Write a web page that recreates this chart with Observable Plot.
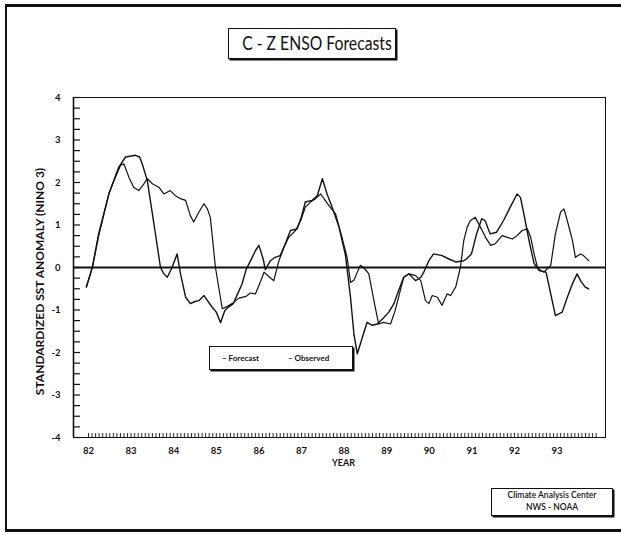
<!DOCTYPE html>
<html>
<head>
<meta charset="utf-8">
<script src="https://cdn.jsdelivr.net/npm/d3@7"></script>
<script src="https://cdn.jsdelivr.net/npm/@observablehq/plot@0.6"></script>
<style>
  html, body { margin: 0; padding: 0; background: #fff; }
  #wrap { position: relative; width: 621px; height: 536px; overflow: hidden; font-family: Lato, "Open Sans", sans-serif; }
  #border { position: absolute; left: 5px; top: 4px; width: 640px; height: 522px; border-top: 3px solid #111; border-left: 2px solid #111; border-bottom: 3px solid #111; }
  .box { position: absolute; background: #fff; border: 1.5px solid #111; box-shadow: 1.5px 1.5px 0 #111; color: #111; white-space: nowrap; }
  #title { left: 228px; top: 28px; width: 166px; height: 29px; font-size: 18.5px; line-height: 29px; text-align: center; }
  #title span { display: inline-block; transform: scaleX(0.85); }
  #legend { left: 209px; top: 346px; width: 142px; height: 22px; font-size: 8px; font-weight: 700; line-height: 22px; }
  #legend span { position: absolute; top: 0; }
  #credit { left: 491px; top: 488px; width: 120px; height: 25px; font-size: 8.5px; line-height: 11.5px; text-align: center; padding-top: 1px; font-weight: 600; }
  #chart { position: absolute; left: 0; top: 0; }
</style>
</head>
<body>
<div id="wrap">
  <div id="chart"></div>
  <div id="border"></div>
  <div class="box" id="title"><span>C - Z ENSO Forecasts</span></div>
  <div class="box" id="legend"><span style="left:12px">– Forecast</span><span style="left:78px">– Observed</span></div>
  <div class="box" id="credit">Climate Analysis Center<br>NWS - NOAA</div>
</div>
<script>
// Tick labels
const yearTicks = [82, 83, 84, 85, 86, 87, 88, 89, 90, 91, 92, 93];
const yTickLabels = [-4, -3, -2, -1, 0, 1, 2, 3, 4];
const yLabel = "STANDARDIZED SST ANOMALY (NINO 3)";
const xLabel = "YEAR";

// Forecast series (year, standardized anomaly)
const forecastYears = [81.95, 82.09, 82.24, 82.48, 82.63, 82.75, 82.83, 82.95, 83.06, 83.18, 83.30, 83.38, 83.50, 83.65, 83.77, 83.92, 84.04, 84.16, 84.28, 84.39, 84.47, 84.59, 84.71, 84.79, 84.86, 84.98, 85.14, 85.25, 85.37, 85.53, 85.70, 85.80, 85.92, 86.05, 86.12, 86.22, 86.35, 86.47, 86.59, 86.70, 86.86, 86.98, 87.09, 87.21, 87.33, 87.45, 87.64, 87.80, 87.95, 88.07, 88.15, 88.23, 88.38, 88.46, 88.58, 88.70, 88.81, 88.93, 89.09, 89.20, 89.32, 89.40, 89.52, 89.68, 89.80, 89.91, 89.99, 90.07, 90.19, 90.30, 90.42, 90.50, 90.62, 90.73, 90.81, 90.89, 90.96, 91.08, 91.20, 91.32, 91.44, 91.55, 91.71, 91.83, 91.95, 92.06, 92.18, 92.30, 92.38, 92.46, 92.54, 92.61, 92.69, 92.77, 92.85, 92.96, 93.08, 93.16, 93.24, 93.36, 93.43, 93.55, 93.62, 93.74];
const forecastValues = [-0.46, 0, 0.75, 1.74, 2.12, 2.40, 2.44, 2.12, 1.89, 1.81, 1.97, 2.09, 1.97, 1.89, 1.73, 1.81, 1.69, 1.62, 1.58, 1.22, 1.07, 1.30, 1.50, 1.38, 1.18, 0, -0.97, -0.92, -0.85, -0.72, -0.68, -0.60, -0.62, -0.30, -0.11, -0.20, -0.31, 0.16, 0.48, 0.71, 0.87, 1.10, 1.42, 1.54, 1.62, 1.73, 1.46, 1.26, 0.71, 0.24, -0.35, -0.30, 0.05, 0, -0.15, -0.78, -1.33, -1.29, -1.33, -1.01, -0.54, -0.23, -0.15, -0.19, -0.31, -0.78, -0.85, -0.66, -0.70, -0.89, -0.62, -0.66, -0.46, 0, 0.64, 0.95, 1.10, 1.18, 0.95, 0.71, 0.52, 0.56, 0.75, 0.71, 0.67, 0.75, 0.87, 0.91, 0.71, 0.32, 0, -0.07, -0.11, -0.03, 0.05, 0.79, 1.30, 1.38, 1.10, 0.64, 0.24, 0.32, 0.28, 0.16];

// Observed series (year, standardized anomaly)
const observedYears = [81.95, 82.09, 82.24, 82.48, 82.71, 82.87, 83.10, 83.20, 83.26, 83.38, 83.57, 83.69, 83.77, 83.85, 83.96, 84.08, 84.16, 84.28, 84.39, 84.50, 84.59, 84.71, 84.90, 85.00, 85.10, 85.20, 85.30, 85.40, 85.50, 85.60, 85.70, 85.80, 85.92, 86.00, 86.10, 86.15, 86.27, 86.38, 86.50, 86.62, 86.74, 86.90, 87.00, 87.09, 87.25, 87.37, 87.49, 87.60, 87.72, 87.88, 88.03, 88.15, 88.23, 88.31, 88.43, 88.54, 88.66, 88.78, 88.90, 89.05, 89.17, 89.28, 89.40, 89.52, 89.68, 89.80, 89.87, 89.99, 90.10, 90.30, 90.46, 90.62, 90.81, 90.87, 90.99, 91.11, 91.23, 91.31, 91.43, 91.58, 91.74, 91.90, 92.06, 92.14, 92.22, 92.34, 92.46, 92.58, 92.74, 92.85, 92.96, 93.12, 93.24, 93.36, 93.47, 93.55, 93.66, 93.74];
const observedValues = [-0.46, 0, 0.80, 1.74, 2.36, 2.60, 2.64, 2.60, 2.44, 2.05, 0.80, 0, -0.15, -0.23, 0, 0.32, -0.15, -0.70, -0.85, -0.80, -0.78, -0.66, -0.93, -1.05, -1.30, -1.01, -0.92, -0.85, -0.62, -0.40, -0.05, 0.15, 0.40, 0.52, 0.20, -0.05, 0.16, 0.24, 0.28, 0.56, 0.87, 0.91, 1.20, 1.54, 1.58, 1.69, 2.09, 1.73, 1.42, 0.95, 0.30, -0.70, -1.56, -2.03, -1.64, -1.29, -1.36, -1.33, -1.21, -1.05, -0.85, -0.54, -0.23, -0.15, -0.31, -0.23, -0.11, 0.16, 0.32, 0.28, 0.20, 0.13, 0.16, 0.20, 0.32, 0.79, 1.15, 1.10, 0.79, 0.83, 1.10, 1.42, 1.73, 1.65, 1.26, 0.64, 0.09, -0.07, -0.11, -0.62, -1.13, -1.05, -0.70, -0.38, -0.15, -0.31, -0.46, -0.50];

const forecast = forecastYears.map((x, i) => ({x, y: forecastValues[i]}));
const observed = observedYears.map((x, i) => ({x, y: observedValues[i]}));

const monthTicks = d3.range(0, 144).map(i => 82 + i / 12);
const yMinorTicks = d3.range(-16, 17).map(i => i / 4);

const W = 621, H = 536;
const mL = 73, mR = 16, mT = 97, mB = 99;
const frameW = W - mL - mR, frameH = H - mT - mB;

const chart = Plot.plot({
  width: W,
  height: H,
  marginLeft: mL,
  marginRight: mR,
  marginTop: mT,
  marginBottom: mB,
  style: {background: "transparent", fontFamily: "Lato, 'Open Sans', sans-serif", color: "#111"},
  x: {domain: [81.648, 94.136]},
  y: {domain: [-4, 4]},
  marks: [
    Plot.frame({stroke: "#111", strokeWidth: 1}),
    Plot.ruleX([81.648], {stroke: "#111", strokeWidth: 1.6}),
    Plot.tickY(yMinorTicks, {y: d => d, insetRight: frameW - 7, stroke: "#111", strokeWidth: 1.2}),
    Plot.tickX(monthTicks, {x: d => d, insetTop: frameH - 4, stroke: "#111", strokeWidth: 0.9}),
    Plot.ruleY([0], {stroke: "#111", strokeWidth: 1.8}),
    Plot.line(forecast, {x: "x", y: "y", stroke: "#111", strokeWidth: 1.2}),
    Plot.line(observed, {x: "x", y: "y", stroke: "#111", strokeWidth: 1.4}),
    Plot.axisY(yTickLabels, {tickSize: 0, tickPadding: 13, fontSize: 9.5, fontWeight: "bold", tickFormat: d => (d < 0 ? "-" + (-d) : String(d)), label: null}),
    Plot.axisX(yearTicks, {tickSize: 0, tickPadding: 10, fontSize: 9.5, fontWeight: "bold", tickFormat: d => String(d), label: null}),
    Plot.text([yLabel], {text: d => d, frameAnchor: "left", textAnchor: "middle", rotate: -90, dx: -33, dy: 14, fontSize: 12, fontWeight: "bold", fill: "#111"}),
    Plot.text([xLabel], {text: d => d, frameAnchor: "bottom", dx: 4, dy: 28, fontSize: 9, fontWeight: "bold", fill: "#111"})
  ]
});
document.getElementById("chart").appendChild(chart);
</script>
</body>
</html>
